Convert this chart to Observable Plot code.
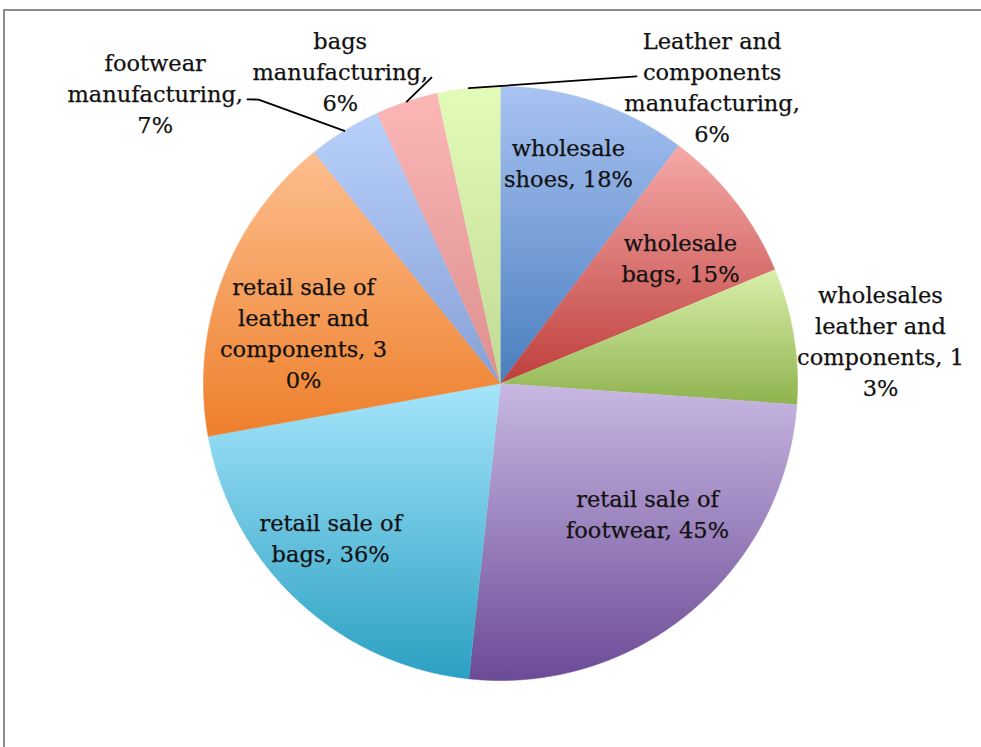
<!DOCTYPE html>
<html><head><meta charset="utf-8">
<script src="https://cdn.jsdelivr.net/npm/d3@7"></script>
<script src="https://cdn.jsdelivr.net/npm/@observablehq/plot@0.6"></script>
<style>
html,body{margin:0;padding:0;background:#fff;}
#wrap{position:relative;width:981px;height:747px;overflow:hidden;background:#fff;}
#frame{position:absolute;left:3px;top:9px;width:1200px;height:1200px;border-left:2px solid #8c8c8c;border-top:2px solid #8c8c8c;}
#chart{position:absolute;left:0;top:0;}
</style></head><body>
<div id="wrap"><div id="frame"></div><div id="chart"></div></div>
<script>
// ---- data ----
const categories = [
  "wholesale shoes", "wholesale bags", "wholesales leather and components",
  "retail sale of footwear", "retail sale of bags", "retail sale of leather and components",
  "footwear manufacturing", "bags manufacturing", "Leather and components manufacturing"
];
const values = [18, 15, 13, 45, 36, 30, 7, 6, 6];
const labelTexts = [
  "wholesale\nshoes, 18%",
  "wholesale\nbags, 15%",
  "wholesales\nleather and\ncomponents, 1\n3%",
  "retail sale of\nfootwear, 45%",
  "retail sale of\nbags, 36%",
  "retail sale of\nleather and\ncomponents, 3\n0%",
  "footwear\nmanufacturing,\n7%",
  "bags\nmanufacturing,\n6%",
  "Leather and\ncomponents\nmanufacturing,\n6%"
];
// ---- styles ----
const colorsTop = ["#a9c3f2", "#f5a9a8", "#d9efab", "#c8b8e2", "#a5e5fb", "#fdbe8e", "#b8d1fb", "#fbb7b6", "#e2fbb9"];
const colorsBottom = ["#4a7ebf", "#be3f3c", "#8fb34e", "#6c4b97", "#2ba0c2", "#ee7f2b", "#879fd4", "#dd8f8f", "#c0da94"];
// ---- layout (polar: radius factor, angle shift in degrees from slice mid) ----
const labelRadius = [0.782, 0.742, 1.288, 0.659, 0.770, 0.686, 1.522, 1.184, 1.231];
const labelShift = [-1.4, 2.6, 2.6, -8.8, 5.0, -5.7, -18.1, -8.7, 41.5];
// leader line bends: [radius factor, absolute angle in degrees]
const leaderSlices = [6, 7, 8];
const leaderBends = [
  [[1.256, 319.57], [1.281, 318.30]],
  [[1.056, 347.29]],
  [[1.131, 23.89]]
];

const W = 981, H = 747, CX = 500, CY = 383, R = 297;
const rad = Math.PI / 180;
const pt = (r, a) => ({x: r * Math.sin(a), y: r * Math.cos(a)});

const arcs = d3.pie().sort(null).value(d => d)(values);

const sliceRows = [];
arcs.forEach((a, i) => {
  const name = categories[i];
  sliceRows.push({name, ...pt(0, 0)});
  const n = Math.max(2, Math.ceil((a.endAngle - a.startAngle) / 0.005));
  for (let k = 0; k <= n; k++) {
    const ang = a.startAngle + (a.endAngle - a.startAngle) * k / n;
    sliceRows.push({name, ...pt(1, ang)});
  }
});

const circleRows = d3.range(0, 721).map(k => pt(1, k * Math.PI / 360));

const labelRows = arcs.map((a, i) => {
  const mid = (a.startAngle + a.endAngle) / 2 + labelShift[i] * rad;
  return {text: labelTexts[i], ...pt(labelRadius[i], mid)};
});

const leaderRows = [];
leaderSlices.forEach((s, j) => {
  const a = arcs[s];
  const mid = (a.startAngle + a.endAngle) / 2;
  leaderRows.push({id: j, ...pt(1, mid)});
  leaderBends[j].forEach(([r, deg]) => leaderRows.push({id: j, ...pt(r, deg * rad)}));
});

const urls = categories.map((_, i) => `url(#g${i})`);

const plot = Plot.plot({
  width: W, height: H, margin: 0,
  x: {domain: [-CX / R, (W - CX) / R], axis: null},
  y: {domain: [-(H - CY) / R, CY / R], axis: null},
  color: {type: "ordinal", domain: categories, range: urls},
  marks: [
    Plot.line(circleRows, {x: "x", y: "y", fill: "#404040", fillOpacity: 0.55, stroke: "none", dx: 1, dy: 3, ariaLabel: "pie-shadow"}),
    Plot.line(sliceRows, {x: "x", y: "y", z: "name", fill: "name", stroke: "name", strokeWidth: 0.6}),
    Plot.line(leaderRows, {x: "x", y: "y", z: "id", stroke: "black", strokeWidth: 1.8}),
    Plot.text(labelRows, {x: "x", y: "y", text: "text", fontSize: 22.5, fontFamily: "DejaVu Serif", lineHeight: 1.38, fill: "#111", stroke: "#111", strokeWidth: 0.25, textAnchor: "middle"})
  ]
});

const svg = d3.select(plot);
svg.style("background", "transparent");
const defs = svg.insert("defs", ":first-child");
categories.forEach((_, i) => {
  const g = defs.append("linearGradient").attr("id", `g${i}`)
    .attr("x1", 0).attr("y1", 0).attr("x2", 0).attr("y2", 1);
  g.append("stop").attr("offset", "0%").attr("stop-color", colorsTop[i]);
  g.append("stop").attr("offset", "100%").attr("stop-color", colorsBottom[i]);
});
defs.append("filter").attr("id", "blur").attr("x", "-10%").attr("y", "-10%").attr("width", "120%").attr("height", "120%")
  .append("feGaussianBlur").attr("stdDeviation", 3);
svg.select('g[aria-label="pie-shadow"]').attr("filter", "url(#blur)");

document.getElementById("chart").appendChild(plot);
</script>
</body></html>
